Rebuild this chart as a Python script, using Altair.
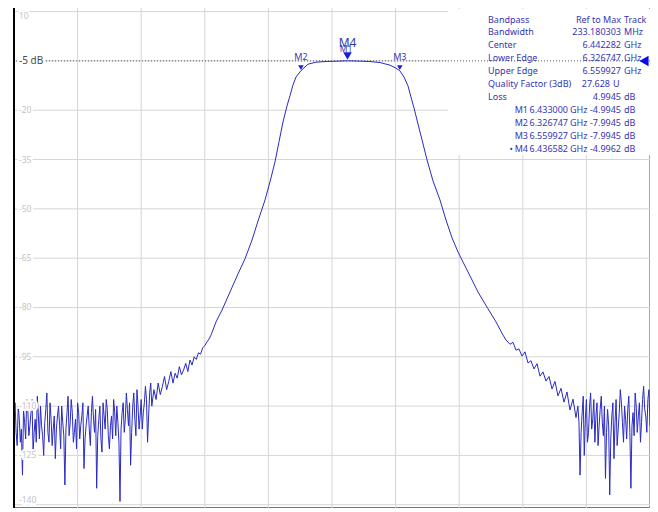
import altair as alt
import pandas as pd

# ---------------- data ----------------
# Trace: frequency in GHz, level in dB
noise_left_ghz = [5.6500, 5.6525, 5.6550, 5.6575, 5.6600, 5.6625, 5.6650, 5.6675, 5.6700, 5.6725,
                  5.6750, 5.6775, 5.6800, 5.6825, 5.6850, 5.6875, 5.6900, 5.6925, 5.6950, 5.6975,
                  5.7000, 5.7025, 5.7050, 5.7075, 5.7100, 5.7125, 5.7150, 5.7175, 5.7200, 5.7225,
                  5.7250, 5.7275, 5.7300, 5.7325, 5.7350, 5.7375, 5.7400, 5.7425, 5.7450, 5.7475,
                  5.7500, 5.7525, 5.7550, 5.7575, 5.7600, 5.7625, 5.7650, 5.7675, 5.7700, 5.7725,
                  5.7750, 5.7775, 5.7800, 5.7825, 5.7850, 5.7875, 5.7900, 5.7925, 5.7950, 5.7975,
                  5.8000, 5.8025, 5.8050, 5.8075, 5.8100, 5.8125, 5.8150, 5.8175, 5.8200, 5.8225,
                  5.8250, 5.8275, 5.8300, 5.8325, 5.8350, 5.8375, 5.8400, 5.8425, 5.8450, 5.8475,
                  5.8500, 5.8525, 5.8550, 5.8575, 5.8600, 5.8625, 5.8650, 5.8675, 5.8700, 5.8725,
                  5.8750, 5.8775, 5.8800, 5.8825, 5.8850, 5.8875, 5.8900, 5.8925, 5.8950, 5.8975,
                  5.9000, 5.9025, 5.9050, 5.9075, 5.9100, 5.9125, 5.9150, 5.9175, 5.9200, 5.9225,
                  5.9250, 5.9275, 5.9300, 5.9325, 5.9350, 5.9375, 5.9400, 5.9425, 5.9450, 5.9475,
                  5.9500, 5.9525, 5.9550, 5.9575, 5.9600, 5.9625, 5.9650, 5.9675, 5.9700, 5.9725,
                  5.9750]
noise_left_db = [-113, -109, -118, -122, -110, -114, -121, -117, -131, -111,
                 -115, -120, -108, -111, -119, -116, -112, -108, -124, -118,
                 -114, -121, -107, -113, -120, -110, -116, -119, -125, -115,
                 -111, -106, -118, -121, -109, -114, -122, -117, -113, -126,
                 -117, -113, -110, -116, -123, -110, -115, -119, -134, -117,
                 -112, -107, -119, -115, -108, -112, -121, -118, -114, -123,
                 -109, -112, -120, -116, -113, -109, -129, -120, -116, -113,
                 -110, -117, -122, -112, -107, -114, -118, -111, -135, -119,
                 -114, -110, -120, -124, -109, -113, -117, -108, -111, -119,
                 -123, -116, -113, -120, -108, -112, -119, -110, -115, -121,
                 -139, -117, -112, -109, -118, -114, -106, -111, -116, -109,
                 -128, -118, -110, -106, -114, -119, -105, -110, -117, -113,
                 -108, -117, -112, -109, -104, -108, -121, -113, -106, -103,
                 -110]

skirt_left_ghz = [5.980, 5.985, 5.990, 5.995, 6.000, 6.005, 6.010, 6.015, 6.020, 6.025,
                  6.030, 6.035, 6.040, 6.045, 6.050, 6.055, 6.060, 6.065, 6.070, 6.075,
                  6.080, 6.085, 6.090, 6.095, 6.100, 6.105, 6.110, 6.115]
skirt_left_db = [-105, -108, -103, -106.5, -104, -101, -105, -102.5, -99.5, -103,
                 -100, -101.5, -98, -100.5, -99, -97, -99.5, -96, -97.5, -95,
                 -95.8, -93.8, -94.2, -92.3, -91.6, -90.5, -89.6, -88.3]

passband_ghz = [6.1264, 6.1406, 6.1594, 6.1783, 6.1948, 6.2113, 6.2255, 6.2420, 6.2538, 6.2656,
                6.2750, 6.2844, 6.2939, 6.3009, 6.3080, 6.3151, 6.3267, 6.3434, 6.3623, 6.3835,
                6.4071, 6.4307, 6.4330, 6.4366, 6.4472, 6.4660, 6.4896, 6.5132, 6.5368, 6.5510,
                6.5599, 6.5698, 6.5792, 6.5863, 6.5934, 6.6028, 6.6123, 6.6241, 6.6382, 6.6547,
                6.6689, 6.6830, 6.6972, 6.7090, 6.7255, 6.7443, 6.7679, 6.7868, 6.8033]
passband_db = [-84.4, -80.8, -75.3, -69.8, -65.2, -59.5, -53.7, -47.3, -41.8, -35.7,
               -29.6, -23.6, -18.7, -15.6, -12.3, -9.9, -8.0, -6.0, -5.4, -5.2,
               -5.1, -5.0, -4.99, -5.0, -5.0, -5.08, -5.2, -5.5, -6.3, -7.2,
               -8.0, -9.9, -12.6, -16.0, -19.3, -24.2, -29.0, -35.1, -41.5, -47.3,
               -53.4, -58.8, -63.1, -66.2, -70.4, -75.3, -80.4, -84.4, -88.4]

skirt_right_ghz = [6.8104, 6.8198, 6.8269, 6.8340, 6.8410, 6.8481, 6.8552, 6.8623, 6.8693, 6.8764,
                   6.8835, 6.8906, 6.8976, 6.9047, 6.9118, 6.9189, 6.9259, 6.9330, 6.9401, 6.9472,
                   6.9542, 6.9613, 6.9684, 6.9755]
skirt_right_db = [-89.9, -91.2, -90.6, -93.0, -92.6, -94.8, -93.5, -96.9, -96.2, -98.7,
                  -97.1, -100.9, -99.6, -102.4, -101.0, -104.8, -102.5, -106.9, -104.6, -108.8,
                  -105.7, -111.2, -107.9, -113.5]

noise_right_ghz = [6.9800, 6.9825, 6.9850, 6.9875, 6.9900, 6.9925, 6.9950, 6.9975, 7.0000, 7.0025,
                   7.0050, 7.0075, 7.0100, 7.0125, 7.0150, 7.0175, 7.0200, 7.0225, 7.0250, 7.0275,
                   7.0300, 7.0325, 7.0350, 7.0375, 7.0400, 7.0425, 7.0450, 7.0475, 7.0500, 7.0525,
                   7.0550, 7.0575, 7.0600, 7.0625, 7.0650, 7.0675, 7.0700, 7.0725, 7.0750, 7.0775,
                   7.0800, 7.0825, 7.0850, 7.0875, 7.0900, 7.0925, 7.0950, 7.0975, 7.1000, 7.1025,
                   7.1050, 7.1075, 7.1100, 7.1125, 7.1150, 7.1175, 7.1200, 7.1225, 7.1250, 7.1275,
                   7.1300, 7.1325, 7.1350, 7.1375, 7.1400, 7.1425, 7.1450, 7.1475, 7.1500]
noise_right_db = [-110, -115, -131, -118, -112, -107, -125, -114, -108, -121,
                  -118, -110, -106, -117, -114, -108, -121, -113, -109, -122,
                  -116, -111, -107, -115, -119, -110, -132, -118, -111, -116,
                  -137, -120, -113, -109, -126, -115, -108, -122, -117, -112,
                  -105, -109, -115, -121, -110, -114, -120, -111, -107, -118,
                  -135, -116, -112, -119, -106, -110, -118, -113, -109, -121,
                  -115, -108, -104, -111, -113, -118, -108, -105, -116]

# Markers
marker_names = ["M1", "M2", "M3", "M4"]
marker_ghz = [6.433000, 6.326747, 6.559927, 6.436582]
marker_db = [-4.9945, -7.9945, -7.9945, -4.9962]

# Grid / axis values
x_grid_ghz = [5.65, 5.80, 5.95, 6.10, 6.25, 6.40, 6.55, 6.70, 6.85, 7.00, 7.15]
y_grid_db = [10, -5, -20, -35, -50, -65, -80, -95, -110, -125, -140]
y_label_text = ["10", "-5 dB", "-20", "-35", "-50", "-65", "-80", "-95", "-110", "-125", "-140"]
ref_level_db = [-5]

# Bandpass readout
info_labels = ["Bandpass", "Bandwidth", "Center", "Lower Edge", "Upper Edge",
               "Quality Factor (3dB)", "Loss"]
info_values = ["Ref to Max", "233.180303", "6.442282", "6.326747", "6.559927", "27.628", "4.9945"]
info_units = ["Track", "MHz", "GHz", "GHz", "GHz", "U", "dB"]

# ---------------- build ----------------
freq_all = noise_left_ghz + skirt_left_ghz + passband_ghz + skirt_right_ghz + noise_right_ghz
db_all = noise_left_db + skirt_left_db + passband_db + skirt_right_db + noise_right_db
trace_df = pd.DataFrame({"f": freq_all, "db": db_all})
trace_df["i"] = range(len(trace_df))

W, H = 636, 503
OX, OY = 14, 5  # page position of plot area (for pixel-placed annotations)
BLUE_TXT = "#3636b4"
FONT = "Noto Sans"
GRID = "#d6d6d6"

xs = alt.Scale(domain=[5.65, 7.15], nice=False, zero=False)
ys = alt.Scale(domain=[-141, 12], nice=False, zero=False)
X = lambda fld: alt.X(fld, scale=xs, axis=None)
Y = lambda fld: alt.Y(fld, scale=ys, axis=None)

gx = alt.Chart(pd.DataFrame({"f": x_grid_ghz})).mark_rule(color=GRID, strokeWidth=1).encode(x=X("f:Q"))
gy = alt.Chart(pd.DataFrame({"db": y_grid_db})).mark_rule(color=GRID, strokeWidth=1).encode(y=Y("db:Q"))
left_edge = alt.Chart(pd.DataFrame({"f": [x_grid_ghz[0]]})).mark_rule(color="#000000", strokeWidth=2).encode(x=X("f:Q"))

trace = alt.Chart(trace_df).mark_line(color="#2a2ac4", strokeWidth=1, clip=True).encode(
    x=X("f:Q"), y=Y("db:Q"), order="i:Q"
)

# readout box background (covers the grid behind the text)
box = alt.Chart(pd.DataFrame({"a": [0]})).mark_rect(color="white").encode(
    x=alt.value(448 - OX), x2=alt.value(W), y=alt.value(9 - OY), y2=alt.value(155 - OY)
)

ref_df = pd.DataFrame({"db": ref_level_db})
ref_line = alt.Chart(ref_df).mark_rule(color="#555555", strokeWidth=1, strokeDash=[1, 2]).encode(y=Y("db:Q"))
ref_arrow = alt.Chart(ref_df).mark_point(shape="triangle-left", filled=True, size=110,
                                         color="#0a0af0", opacity=1).encode(
    x=alt.value(W - 6), y=Y("db:Q")
)

ylab_df = pd.DataFrame({"db": y_grid_db, "t": y_label_text})


def ylabels(filt, dy, size, color):
    base = alt.Chart(ylab_df).transform_filter(filt)
    enc = dict(x=alt.value(5), y=Y("db:Q"), text="t:N")
    halo = base.mark_text(align="left", baseline="middle", dy=dy, fontSize=size, font=FONT,
                          color="white", stroke="white", strokeWidth=4).encode(**enc)
    txt = base.mark_text(align="left", baseline="middle", dy=dy, fontSize=size, font=FONT,
                         color=color).encode(**enc)
    return [halo, txt]


lab_mid = ylabels("datum.db < 10 && datum.db > -140 && datum.db != -5", 0, 8.5, "#c4c4c4")
lab_top = ylabels("datum.db == 10", 4, 8.5, "#c4c4c4")
lab_bot = ylabels("datum.db == -140", -5, 8.5, "#c4c4c4")
lab_ref = ylabels("datum.db == -5", 0, 10, "#4a4a4a")

# markers
mk_df = pd.DataFrame({"name": marker_names, "f": marker_ghz, "db": marker_db})
mk_enc = dict(x=X("f:Q"), y=Y("db:Q"))
m23 = "datum.name == 'M2' || datum.name == 'M3'"
small_tri = alt.Chart(mk_df).transform_filter(m23).mark_point(
    shape="triangle-down", filled=True, size=30, color="#1e1ed8", opacity=1, yOffset=-3).encode(**mk_enc)
small_lab = alt.Chart(mk_df).transform_filter(m23).mark_text(
    fontSize=9, font=FONT, color=BLUE_TXT, dy=-14, baseline="middle").encode(text="name:N", **mk_enc)
big_tri = alt.Chart(mk_df).transform_filter("datum.name == 'M4'").mark_point(
    shape="triangle-down", filled=True, size=75, color="#1e1ed8", opacity=1, yOffset=-5).encode(**mk_enc)
m1_lab = alt.Chart(mk_df).transform_filter("datum.name == 'M1'").mark_text(
    fontSize=8.5, font=FONT, color=BLUE_TXT, dy=-12, baseline="middle").encode(text="name:N", **mk_enc)
m4_lab = alt.Chart(mk_df).transform_filter("datum.name == 'M4'").mark_text(
    fontSize=12, font=FONT, color=BLUE_TXT, dy=-18, baseline="middle").encode(text="name:N", **mk_enc)

# readout text table (pixel positions computed here)
ROW0, ROWH = 19.5, 12.95
rows = []
for k, (lab, val, unit) in enumerate(zip(info_labels, info_values, info_units)):
    py = ROW0 + ROWH * k - OY
    vx, ux = (610, 613) if unit == "U" else (621, 624)
    rows.append({"t": lab, "px": 488 - OX, "py": py, "al": "left"})
    rows.append({"t": val, "px": vx - OX, "py": py, "al": "right"})
    rows.append({"t": unit, "px": ux - OX, "py": py, "al": "left"})
for j, (nm, f, d) in enumerate(zip(marker_names, marker_ghz, marker_db)):
    py = ROW0 + ROWH * (len(info_labels) + j) - OY
    rows.append({"t": nm, "px": 528 - OX, "py": py, "al": "right"})
    rows.append({"t": f"{f:.6f}", "px": 568 - OX, "py": py, "al": "right"})
    rows.append({"t": "GHz", "px": 570 - OX, "py": py, "al": "left"})
    rows.append({"t": f"{d:.4f}", "px": 621 - OX, "py": py, "al": "right"})
    rows.append({"t": "dB", "px": 624 - OX, "py": py, "al": "left"})
    if nm == "M4":
        rows.append({"t": "•", "px": 513 - OX, "py": py, "al": "right"})
txt_df = pd.DataFrame(rows)


def txt_layer(al):
    return alt.Chart(txt_df).transform_filter(f"datum.al == '{al}'").mark_text(
        align=al, baseline="middle", fontSize=9, font=FONT, color=BLUE_TXT).encode(
        x=alt.X("px:Q", scale=None, axis=None), y=alt.Y("py:Q", scale=None, axis=None), text="t:N")


chart = alt.layer(
    gx, gy, box, ref_line, trace, left_edge, *lab_mid, *lab_top, *lab_bot, *lab_ref,
    small_tri, small_lab, big_tri, m1_lab, m4_lab, ref_arrow,
    txt_layer("left"), txt_layer("right"),
).properties(
    width=W, height=H, autosize="none",
    padding={"left": 6, "top": -3, "right": 0, "bottom": 0},
    background="white",
).configure_view(stroke="#4a4a4a", strokeWidth=1.5)

chart.save("out.html", embed_options={"renderer": "svg", "actions": False})
